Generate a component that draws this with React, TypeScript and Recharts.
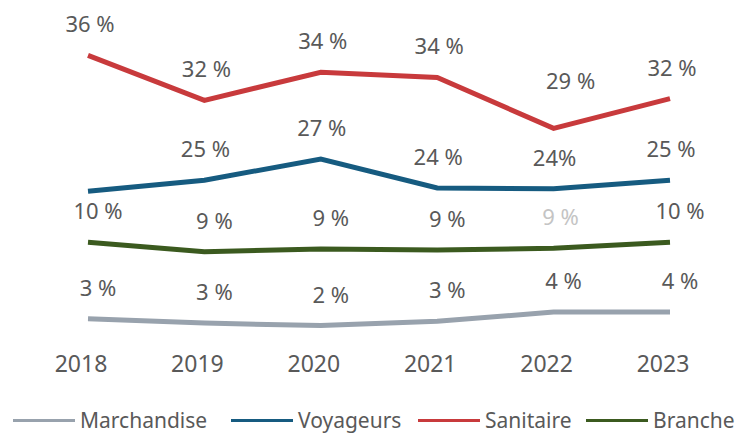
import { LineChart, Line, XAxis, YAxis, LabelList } from 'recharts';

// years on the x axis
const years = ['2018', '2019', '2020', '2021', '2022', '2023'];

// plotted values
const marchandise = [3.2, 2.7, 2.4, 2.9, 4.0, 4.0];
const voyageurs = [18.2, 19.5, 22.0, 18.6, 18.5, 19.5];
const sanitaire = [34.2, 28.9, 32.2, 31.6, 25.6, 29.1];
const branche = [12.2, 11.1, 11.4, 11.3, 11.5, 12.2];

// data label texts as printed on the chart
const marchandiseLabels = ['3 %', '3 %', '2 %', '3 %', '4 %', '4 %'];
const voyageursLabels = ['', '25 %', '27 %', '24 %', '24%', '25 %'];
const sanitaireLabels = ['36 %', '32 %', '34 %', '34 %', '29 %', '32 %'];
const brancheLabels = ['10 %', '9 %', '9 %', '9 %', '9 %', '10 %'];

const data = years.map((year, i) => ({
  year,
  marchandise: marchandise[i],
  voyageurs: voyageurs[i],
  sanitaire: sanitaire[i],
  branche: branche[i],
}));

const series = [
  { key: 'marchandise', name: 'Marchandise', color: '#98a2ad', labels: marchandiseLabels, dx: 10, legendX: 13 },
  { key: 'voyageurs', name: 'Voyageurs', color: '#165b80', labels: voyageursLabels, dx: 1, legendX: 231 },
  { key: 'sanitaire', name: 'Sanitaire', color: '#c83a3c', labels: sanitaireLabels, dx: 2, legendX: 418 },
  { key: 'branche', name: 'Branche', color: '#3b5a1f', labels: brancheLabels, dx: 10, legendX: 586 },
];

const FONT = '"Noto Sans", "Open Sans", sans-serif';
const TEXT = '#595959';

// a few hand-placed labels in the original
const tweaks: Record<string, { dx?: number; dy?: number; fill?: string }> = {
  'sanitaire-4': { dx: 15, dy: -16 },
  'branche-4': { dx: -3, fill: '#c4c4c4' },
};

function makeLabel(s: (typeof series)[number]) {
  return (props: any) => {
    const { x, y, index } = props;
    const text = s.labels[index];
    if (!text) return null;
    const t = tweaks[`${s.key}-${index}`] || {};
    return (
      <text
        x={x + s.dx + (t.dx || 0)}
        y={y - 23 + (t.dy || 0)}
        textAnchor="middle"
        fill={t.fill || TEXT}
        fontSize={22}
        fontFamily={FONT}
      >
        {text}
      </text>
    );
  };
}

function YearTick(props: any) {
  const { x, y, payload } = props;
  return (
    <text x={x - 7} y={y} dy={18} textAnchor="middle" fill={TEXT} fontSize={23} fontFamily={FONT}>
      {payload.value}
    </text>
  );
}

const drawOrder = ['sanitaire', 'voyageurs', 'branche', 'marchandise'];

export default function App() {
  return (
    <div style={{ position: 'absolute', left: 0, top: 0, width: 739, height: 434, background: '#fff', overflow: 'hidden' }}>
      <LineChart width={739} height={434} data={data} margin={{ top: 6, right: 69, left: 88, bottom: 0 }}>
        <XAxis dataKey="year" axisLine={false} tickLine={false} height={88} tick={<YearTick />} interval={0} />
        <YAxis hide domain={[0, 40]} />
        {drawOrder.map((k) => {
          const s = series.find((x) => x.key === k)!;
          return (
            <Line
              key={s.key}
              dataKey={s.key}
              name={s.name}
              stroke={s.color}
              strokeWidth={5}
              dot={false}
              activeDot={false}
              isAnimationActive={false}
            >
              <LabelList dataKey={s.key} content={makeLabel(s)} />
            </Line>
          );
        })}
      </LineChart>

      {/* legend */}
      {series.map((s) => (
        <div
          key={s.key}
          style={{
            position: 'absolute',
            left: s.legendX,
            top: 406,
            height: 28,
            display: 'flex',
            alignItems: 'center',
            fontFamily: FONT,
            fontSize: 21,
            lineHeight: '28px',
            color: TEXT,
            whiteSpace: 'nowrap',
          }}
        >
          <div style={{ width: 62, height: 3, background: s.color, marginRight: 5 }} />
          <span>{s.name}</span>
        </div>
      ))}
    </div>
  );
}
